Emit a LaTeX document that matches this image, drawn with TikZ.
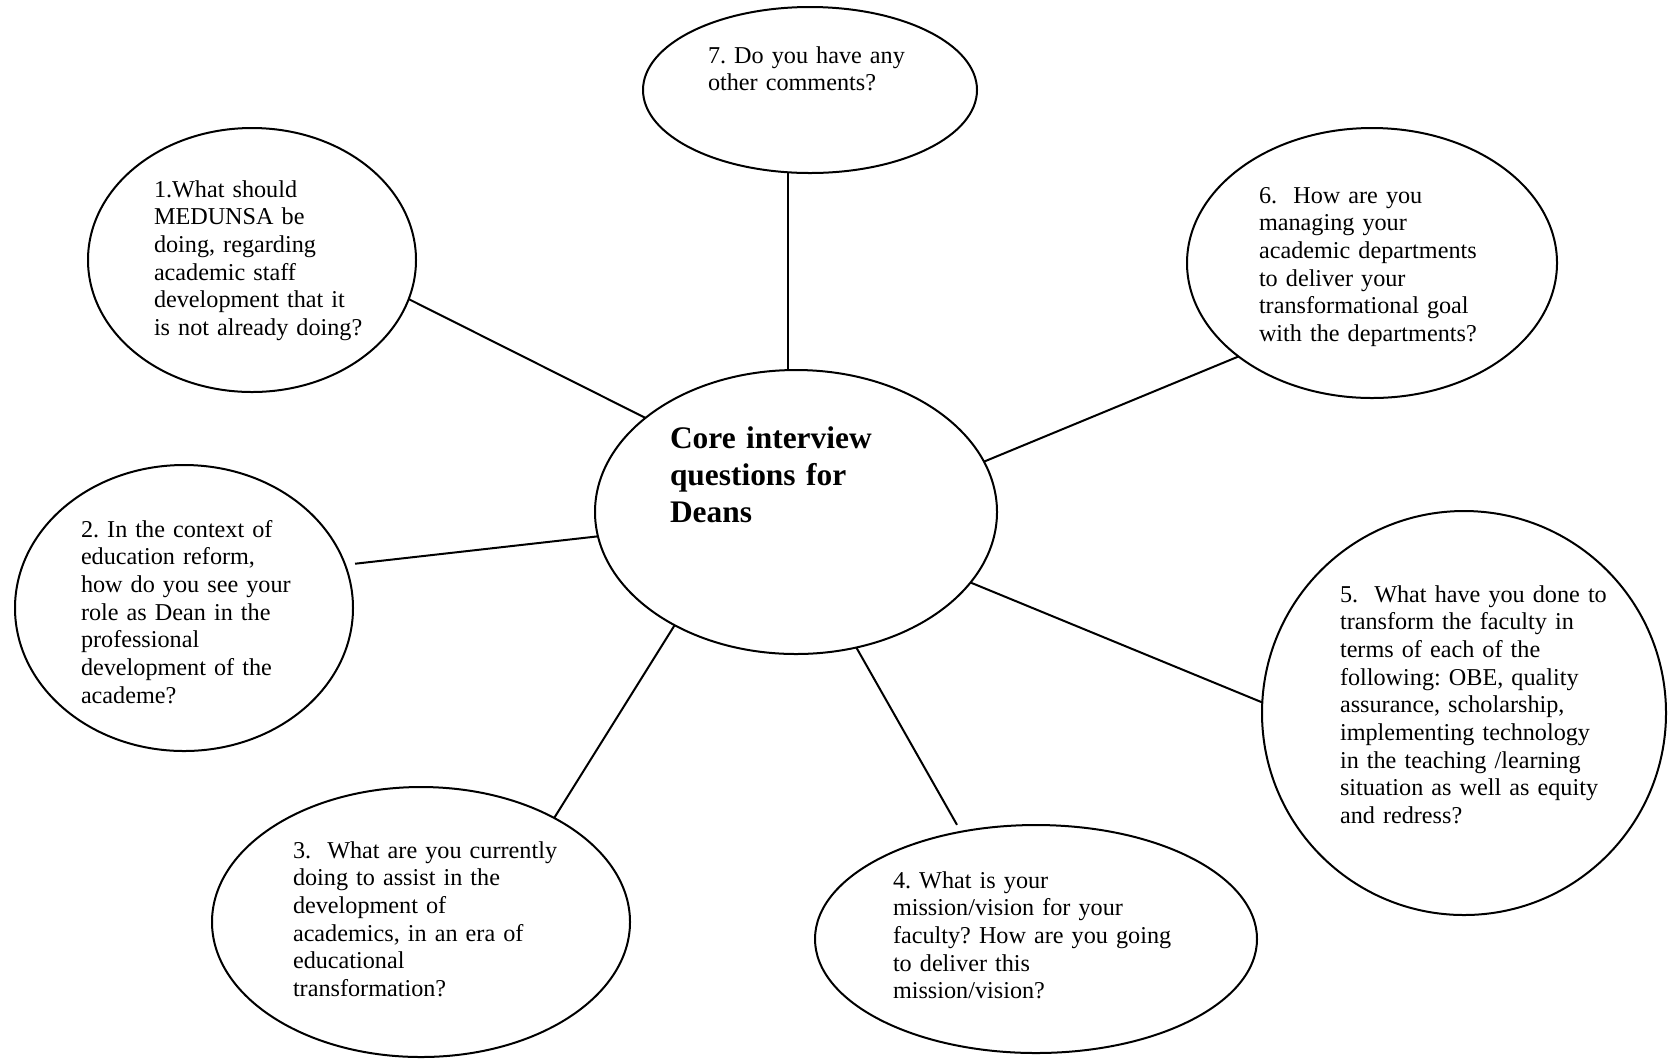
\documentclass[tikz,border=0pt]{standalone}
\usepackage{fontspec}
\setmainfont{Liberation Serif}
\usetikzlibrary{shapes.geometric}
\frenchspacing

\begin{document}
\begin{tikzpicture}[x=0.5pt,y=-0.5pt,line width=1pt,
    bubble/.style={draw,ellipse,inner sep=0pt,outer sep=0pt},
    qtext/.style={anchor=base west,inner sep=0pt,text width=160pt,align=left,
        font=\fontsize{12.1}{13.85}\selectfont}]
        \useasboundingbox (0,0) rectangle (1668,1062);

        % the bubbles
        \node[bubble,minimum width=201pt,minimum height=142pt] (core) at (796,512) {};
        \node[bubble,minimum width=164pt,minimum height=132pt] (q1) at (252,260) {};
        \node[bubble,minimum width=169pt,minimum height=143pt] (q2) at (184,608) {};
        \node[bubble,minimum width=209pt,minimum height=135pt] (q3) at (421,922) {};
        \node[bubble,minimum width=221pt,minimum height=114pt] (q4) at (1036,939) {};
        \node[bubble,minimum width=202pt,minimum height=202pt] (q5) at (1464,713) {};
        \node[bubble,minimum width=185pt,minimum height=135pt] (q6) at (1372,263) {};
        \node[bubble,minimum width=167pt,minimum height=83pt] (q7) at (810,90) {};

        % the texts
        \node[qtext,font=\bfseries\fontsize{15.7}{18.7}\selectfont] (tcore) at (669,448)
            {Core interview\\questions for\\Deans};
        \node[qtext] (t1) at (153,197) {1.What should\\MEDUNSA be\\doing, regarding\\academic staff\\development that it\\is not already doing?};
        \node[qtext] (t2) at (80,537) {2. In the context of\\education reform,\\how do you see your\\role as Dean in the\\professional\\development of the\\academe?};
        \node[qtext] (t3) at (292,858) {3.\ \ What are you currently\\doing to assist in the\\development of\\academics, in an era of\\educational\\transformation?};
        \node[qtext] (t4) at (892,888) {4. What is your\\mission/vision for your\\faculty? How are you going\\to deliver this\\mission/vision?};
        \node[qtext] (t5) at (1339,602) {5.\ \ What have you done to\\transform the faculty in\\terms of each of the\\following: OBE, quality\\assurance, scholarship,\\implementing technology\\in the teaching /learning\\situation as well as equity\\and redress?};
        \node[qtext] (t6) at (1258,203) {6.\ \ How are you\\managing your\\academic departments\\to deliver your\\transformational goal\\with the departments?};
        \node[qtext] (t7) at (707,63) {7. Do you have any\\other comments?};

        % spokes
        \draw (q1.-14) -- (core.148);
        \draw[shorten <=5pt] (q2.15) -- (core.187);
        \draw (q3.38) -- (core.-137);
        \draw[shorten <=4pt] (q4.125) -- (core.-66);
        \draw (q5.177) -- (core.-22);
        \draw (q6.215) -- (core.15);
        \draw (q7.-105) -- (q7.-105 |- core.north);
    \end{tikzpicture}
\end{document}
